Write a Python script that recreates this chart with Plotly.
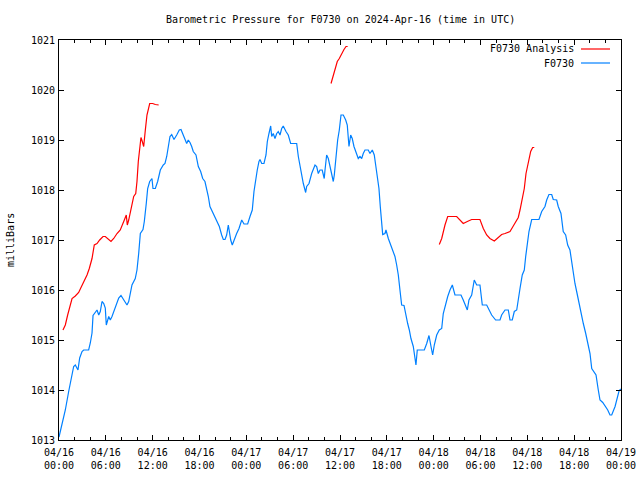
import pandas as pd
import plotly.graph_objects as go

# Hours since 2024-04-16 00:00 UTC and pressure (mb) for the observed series (F0730)
obs_hours = [0.00, 0.38, 0.81, 1.24, 1.67, 1.88, 2.09, 2.43, 2.65, 2.95, 3.16, 3.80, 4.01, 4.23, 4.36,
             4.65, 4.87, 5.09, 5.29, 5.51, 5.73, 5.93, 6.06, 6.37, 6.57, 6.79, 7.21, 7.65, 7.94, 8.29,
             8.71, 8.93, 9.35, 9.77, 9.99, 10.21, 10.42, 10.76, 10.93, 11.18, 11.36, 11.62, 11.91, 12.04,
             12.34, 12.64, 12.98, 13.36, 13.58, 13.80, 14.00, 14.22, 14.44, 14.73, 15.08, 15.41, 15.63,
             15.85, 16.14, 16.36, 16.56, 16.78, 17.00, 17.20, 17.55, 17.85, 18.15, 18.41, 18.70, 18.92,
             19.13, 19.34, 19.77, 20.20, 20.54, 20.84, 21.05, 21.27, 21.48, 21.69, 21.82, 22.00, 22.20,
             22.42, 22.76, 23.06, 23.41, 23.70, 24.17, 24.47, 24.76, 24.98, 25.20, 25.40, 25.62, 25.75,
             25.97, 26.26, 26.52, 26.69, 26.90, 27.12, 27.25, 27.45, 27.67, 27.89, 28.09, 28.31, 28.53,
             28.73, 29.08, 29.37, 29.68, 30.23, 30.45, 30.66, 30.87, 31.09, 31.30, 31.60, 31.73, 32.03,
             32.37, 32.80, 33.01, 33.22, 33.44, 33.72, 33.98, 34.08, 34.29, 34.50, 34.72, 34.94, 35.14,
             35.27, 35.45, 35.70, 35.91, 36.13, 36.42, 36.73, 36.93, 37.15, 37.37, 37.57, 37.79, 38.05,
             38.34, 38.56, 38.78, 38.98, 39.20, 39.62, 39.84, 40.14, 40.39, 40.57, 40.78, 40.99, 41.16,
             41.34, 41.47, 41.76, 41.89, 42.19, 42.62, 43.04, 43.26, 43.47, 43.68, 43.90, 44.20, 44.41,
             44.67, 44.88, 45.09, 45.39, 45.61, 45.73, 45.90, 46.80, 47.11, 47.40, 47.66, 47.87, 48.08,
             48.39, 48.72, 49.03, 49.23, 49.45, 49.80, 50.09, 50.39, 50.73, 51.50, 51.79, 52.01, 52.31,
             52.52, 52.87, 53.20, 53.51, 53.93, 54.23, 54.79, 55.09, 55.43, 55.94, 56.50, 56.71, 57.14,
             57.56, 57.78, 58.07, 58.33, 58.64, 58.84, 59.06, 59.35, 59.61, 59.79, 59.99, 60.21, 60.56,
             61.49, 61.84, 62.26, 62.48, 62.77, 63.12, 63.32, 63.76, 63.96, 64.31, 64.60, 64.91, 65.17,
             65.46, 65.68, 65.89, 66.10, 66.32, 66.62, 66.87, 67.17, 67.48, 67.74, 68.03, 68.25, 68.55,
             68.80, 69.09, 69.31, 69.66, 69.95, 70.30, 70.59, 70.81, 71.24, 71.46, 71.76, 72.00]
obs_mb = [1013.06, 1013.30, 1013.60, 1013.97, 1014.34, 1014.47, 1014.50, 1014.40, 1014.64, 1014.77,
          1014.80, 1014.80, 1014.94, 1015.14, 1015.49, 1015.57, 1015.60, 1015.50, 1015.57, 1015.77,
          1015.73, 1015.64, 1015.30, 1015.47, 1015.40, 1015.47, 1015.64, 1015.84, 1015.89, 1015.80,
          1015.70, 1015.77, 1016.10, 1016.23, 1016.40, 1016.73, 1017.13, 1017.21, 1017.37, 1017.73,
          1018.03, 1018.17, 1018.23, 1018.03, 1018.03, 1018.17, 1018.40, 1018.50, 1018.53, 1018.67,
          1018.87, 1019.07, 1019.11, 1019.01, 1019.10, 1019.20, 1019.21, 1019.13, 1019.00, 1018.93,
          1019.00, 1018.95, 1018.87, 1018.77, 1018.70, 1018.47, 1018.37, 1018.23, 1018.17, 1018.03,
          1017.87, 1017.67, 1017.53, 1017.37, 1017.27, 1017.10, 1017.01, 1017.01, 1017.10, 1017.30,
          1017.17, 1017.00, 1016.90, 1017.00, 1017.13, 1017.23, 1017.40, 1017.32, 1017.32, 1017.47,
          1017.60, 1017.97, 1018.23, 1018.40, 1018.57, 1018.61, 1018.53, 1018.53, 1018.70, 1018.97,
          1019.13, 1019.28, 1019.07, 1019.13, 1019.03, 1019.13, 1019.17, 1019.10, 1019.23, 1019.28,
          1019.17, 1019.10, 1018.93, 1018.93, 1018.93, 1018.67, 1018.47, 1018.27, 1018.13, 1017.95,
          1018.07, 1018.13, 1018.33, 1018.50, 1018.47, 1018.33, 1018.40, 1018.40, 1018.23, 1018.40,
          1018.70, 1018.63, 1018.47, 1018.27, 1018.17, 1018.30, 1018.60, 1019.00, 1019.20, 1019.50,
          1019.50, 1019.40, 1019.30, 1018.87, 1019.10, 1019.03, 1018.87, 1018.77, 1018.63, 1018.67,
          1018.63, 1018.73, 1018.80, 1018.80, 1018.73, 1018.80, 1018.70, 1018.50, 1018.30, 1018.03,
          1017.67, 1017.30, 1017.11, 1017.13, 1017.20, 1017.03, 1016.83, 1016.67, 1016.50, 1016.30,
          1016.00, 1015.70, 1015.69, 1015.50, 1015.33, 1015.20, 1015.03, 1014.87, 1014.67, 1014.50,
          1014.80, 1014.80, 1014.93, 1015.09, 1014.87, 1014.70, 1014.90, 1015.10, 1015.20, 1015.23,
          1015.53, 1015.67, 1015.87, 1016.00, 1016.10, 1015.90, 1015.90, 1015.80, 1015.70, 1015.60,
          1015.80, 1015.90, 1016.20, 1016.10, 1016.10, 1015.70, 1015.70, 1015.60, 1015.50, 1015.40,
          1015.40, 1015.50, 1015.60, 1015.60, 1015.40, 1015.40, 1015.57, 1015.60, 1015.83, 1016.03,
          1016.30, 1016.40, 1016.67, 1016.97, 1017.17, 1017.41, 1017.41, 1017.57, 1017.67, 1017.80,
          1017.91, 1017.91, 1017.81, 1017.80, 1017.67, 1017.53, 1017.17, 1017.10, 1016.90, 1016.80,
          1016.57, 1016.27, 1016.13, 1015.97, 1015.73, 1015.60, 1015.33, 1015.13, 1014.93, 1014.73,
          1014.43, 1014.37, 1014.30, 1014.00, 1013.80, 1013.75, 1013.68, 1013.60, 1013.50, 1013.50,
          1013.67, 1013.83, 1013.99, 1014.02]

# Analysis series (F0730 Analysis) - three separate segments, gaps marked with None
ana_hours = [0.51, 0.81, 1.11, 1.37, 1.67, 2.09, 2.52, 2.82, 3.16, 3.59, 3.88, 4.23, 4.52, 4.87, 5.21,
             5.64, 5.93, 6.24, 6.66, 7.01, 7.43, 7.85, 8.16, 8.37, 8.62, 8.75, 8.93, 9.22, 9.57, 9.83,
             9.99, 10.16, 10.34, 10.50, 10.67, 10.85, 11.06, 11.27, 11.62, 12.00, 12.34, 12.77,
             None,
             34.85, 35.14, 35.45, 35.65, 35.91, 36.22, 36.51, 36.77, 36.98,
             None,
             48.72, 49.03, 49.45, 49.80, 50.95, 51.37, 51.79, 52.31, 52.87, 53.93, 54.36, 54.79, 55.21,
             55.77, 56.15, 56.71, 57.14, 57.78, 58.20, 58.84, 59.06, 59.40, 59.61, 59.83, 60.12, 60.43,
             60.68, 60.89]
ana_mb = [1015.20, 1015.30, 1015.50, 1015.67, 1015.83, 1015.88, 1015.95, 1016.05, 1016.15, 1016.30,
          1016.43, 1016.63, 1016.90, 1016.93, 1017.00, 1017.07, 1017.07, 1017.02, 1016.97, 1017.03,
          1017.13, 1017.20, 1017.30, 1017.40, 1017.50, 1017.30, 1017.40, 1017.63, 1017.87, 1017.93,
          1018.17, 1018.57, 1018.77, 1019.05, 1018.97, 1018.87, 1019.20, 1019.50, 1019.73, 1019.73,
          1019.71, 1019.70,
          None,
          1020.13, 1020.30, 1020.43, 1020.57, 1020.63, 1020.73, 1020.81, 1020.87, 1020.87,
          None,
          1016.91, 1017.03, 1017.30, 1017.47, 1017.47, 1017.40, 1017.33, 1017.37, 1017.41, 1017.41,
          1017.23, 1017.10, 1017.03, 1016.98, 1017.03, 1017.11, 1017.13, 1017.17, 1017.28, 1017.45,
          1017.60, 1017.87, 1018.03, 1018.33, 1018.53, 1018.77, 1018.85, 1018.85]

x_tick_hours = [0, 6, 12, 18, 24, 30, 36, 42, 48, 54, 60, 66, 72]
x_tick_labels = ["04/16<br>00:00", "04/16<br>06:00", "04/16<br>12:00", "04/16<br>18:00",
                 "04/17<br>00:00", "04/17<br>06:00", "04/17<br>12:00", "04/17<br>18:00",
                 "04/18<br>00:00", "04/18<br>06:00", "04/18<br>12:00", "04/18<br>18:00",
                 "04/19<br>00:00"]
y_ticks = [1013, 1014, 1015, 1016, 1017, 1018, 1019, 1020, 1021]

base = pd.Timestamp("2024-04-16 00:00")


def to_time(hours):
    return [None if h is None else base + pd.Timedelta(hours=h) for h in hours]


FONT = "DejaVu Sans Mono"
RED = "#ff0000"
BLUE = "#0080ff"

fig = go.Figure()
fig.add_trace(go.Scatter(x=to_time(ana_hours), y=ana_mb, mode="lines", name="F0730 Analysis",
                         line=dict(color=RED, width=1.2), connectgaps=False))
fig.add_trace(go.Scatter(x=to_time(obs_hours), y=obs_mb, mode="lines", name="F0730",
                         line=dict(color=BLUE, width=1.2)))

fig.update_layout(
    width=640, height=480,
    margin=dict(l=59, r=19, t=40, b=40),
    paper_bgcolor="white", plot_bgcolor="white",
    showlegend=False,
    font=dict(family=FONT, size=10, color="black"),
    xaxis=dict(
        range=[base, base + pd.Timedelta(hours=72)],
        tickmode="array", tickvals=to_time(x_tick_hours), ticktext=x_tick_labels,
        ticks="inside", ticklen=5, tickwidth=1, tickcolor="black",
        showline=True, linecolor="black", linewidth=1, mirror="allticks",
        showgrid=False, zeroline=False, automargin=False, ticklabelstandoff=3,
        minor=dict(tickmode="linear", tick0=base, dtick=2 * 3600 * 1000,
                   ticks="inside", ticklen=3, tickcolor="black", showgrid=False),
        tickfont=dict(family=FONT, size=10),
    ),
    yaxis=dict(
        range=[1013, 1021], tickmode="array", tickvals=y_ticks,
        ticktext=[str(v) for v in y_ticks],
        ticks="inside", ticklen=5, tickwidth=1, tickcolor="black",
        showline=True, linecolor="black", linewidth=1, mirror="allticks",
        showgrid=False, zeroline=False, automargin=False, ticklabelstandoff=1,
        tickfont=dict(family=FONT, size=10),
    ),
)

# Title
fig.add_annotation(text="Barometric Pressure for F0730 on 2024-Apr-16 (time in UTC)",
                   xref="paper", yref="paper", x=0.5, y=1 + 20 / 400, showarrow=False,
                   xanchor="center", yanchor="middle", font=dict(family=FONT, size=10))
# Y-axis label
fig.add_annotation(text="milliBars", xref="paper", yref="paper", x=-(59 - 10) / 562, y=0.5,
                   textangle=-90, showarrow=False, xanchor="center", yanchor="middle",
                   font=dict(family=FONT, size=10))

# Legend (gnuplot style: text right-aligned, line sample on the right)
legend_items = [("F0730 Analysis", RED), ("F0730", BLUE)]
for i, (label, color) in enumerate(legend_items):
    yy = (440 - (49 + 14 * i)) / 400
    fig.add_annotation(text=label, xref="paper", yref="paper", x=(576 - 59) / 562, y=yy,
                       xanchor="right", yanchor="middle", showarrow=False,
                       font=dict(family=FONT, size=10))
    fig.add_shape(type="line", xref="paper", yref="paper",
                  x0=(581 - 59) / 562, x1=(610 - 59) / 562, y0=yy, y1=yy,
                  line=dict(color=color, width=1.2))

fig.write_html("out.html", config={"displayModeBar": False},
               post_script="document.body.style.margin='0';document.body.style.padding='0';")
